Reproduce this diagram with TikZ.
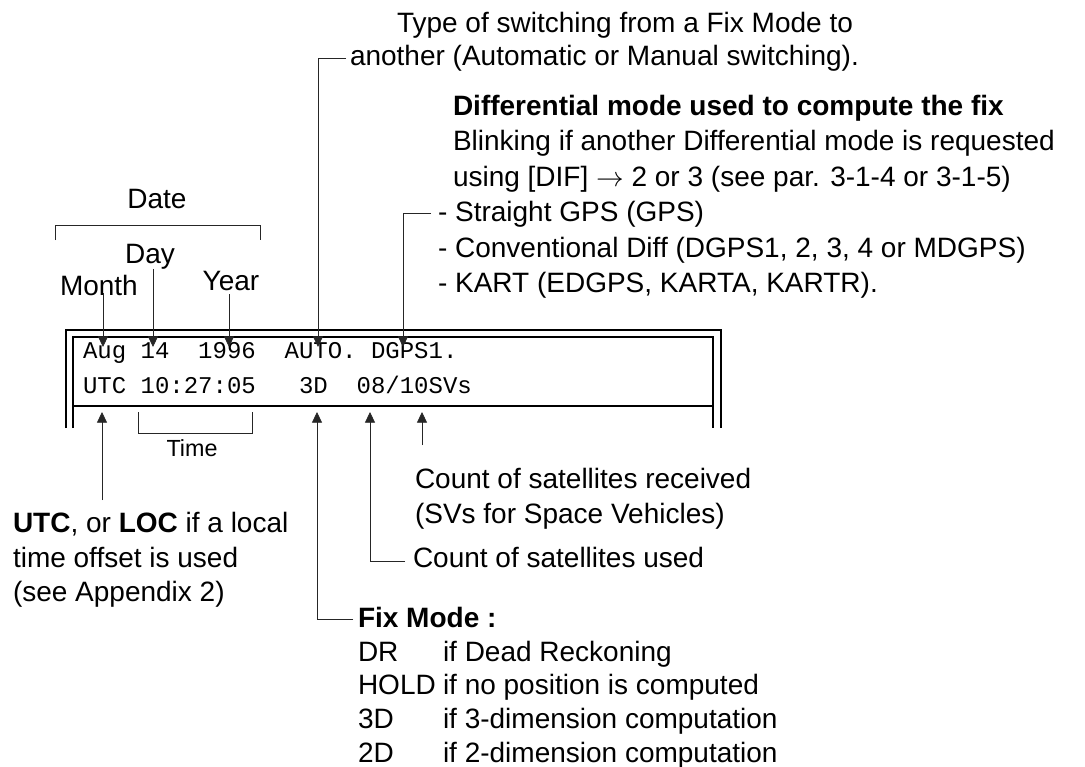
\documentclass[tikz,border=0pt]{standalone}
\usepackage{fontspec}
\setmainfont{Liberation Sans}
\setmonofont{Liberation Mono}
\usetikzlibrary{arrows.meta,calc}

\begin{document}
\begin{tikzpicture}[x=0.75pt,y=-0.75pt,
  lbl/.style={inner sep=0pt,outer sep=0pt,anchor=base west,font=\fontsize{21}{25}\selectfont},
  lblc/.style={lbl,anchor=base},
  small/.style={inner sep=0pt,outer sep=0pt,anchor=base,font=\fontsize{17.5}{21}\selectfont},
  lcd/.style={inner sep=0pt,outer sep=0pt,anchor=base west,font=\ttfamily\fontsize{18}{21}\selectfont},
  lead/.style={line width=0.6pt,black!85},
  arr/.style={lead,-{Triangle[length=8pt,width=7.5pt]}},
  frame/.style={line width=1.5pt},
]
\useasboundingbox[fill=white] (0,0) rectangle (1085,767);

% ---- display frame ----
\draw[frame] (66,428) |- (721,330) -- (721,428);
\draw[frame] (73,428) |- (713,337) -- (713,428);
\draw[frame] (73,406) -- (713,406);

% ---- display contents ----
\node[lcd] (row1) at (83,358) {Aug 14\ \ 1996\ \ AUTO. DGPS1.};
\node[lcd] (row2) at (83,393) {UTC 10:27:05\ \ \ 3D\ \ 08/10SVs};

% arrow tips on the two display rows
\coordinate (tMonth) at (103,347);
\coordinate (tDay)   at (153,347);
\coordinate (tYear)  at (229,347);
\coordinate (tAuto)  at (318,347);
\coordinate (tDgps)  at (403,347);
\coordinate (tUtc)   at (102,412);
\coordinate (t3d)    at (317,412);
\coordinate (t08)    at (370,412);
\coordinate (tSv)    at (422,412);

% ---- date labels ----
\node[lblc] (date)  at (157,208) {Date};
\node[lblc] (day)   at (150,263) {Day};
\node[lbl]  (month) at (60,295)  {Month};
\node[lblc] (year)  at (231,290) {Year};
\draw[lead] (55,240) |- (260,225) -- (260,240);

\draw[arr] ($(month.base -| tMonth)+(0,-2)$) -- (tMonth);
\draw[arr] (day.south -| tDay) -- (tDay);
\draw[arr] ($(year.south -| tYear)+(0,4)$) -- (tYear);

% ---- switching type ----
\node[lbl] (t1) at (397,33) {Type of switching from a Fix Mode to};
\node[lbl] (t2) at (350,66) {another (Automatic or Manual switching).};
\draw[arr] ($(t2.base west)+(-4,-8)$) -| (tAuto);

% ---- differential mode ----
\node[lbl] (d1) at (453,115) {\textbf{Differential mode used to compute the fix}};
\node[lbl] (d2) at (453,150) {Blinking if another Differential mode is requested};
\node[lbl] (d3) at (453,186) {using [DIF] $\rightarrow$ 2 or 3 (see par. 3-1-4 or 3-1-5)};
\node[lbl] (d4) at (438,221) {- Straight GPS (GPS)};
\node[lbl] (d5) at (438,257) {- Conventional Diff (DGPS1, 2, 3, 4 or MDGPS)};
\node[lbl] (d6) at (438,292) {- KART (EDGPS, KARTA, KARTR).};
\draw[arr] ($(d4.base west)+(-7,-8)$) -| (tDgps);

% ---- time ----
\draw[lead] (138,412) |- (252,433) -- (252,412);
\node[small] (time) at (192,456) {Time};

% ---- UTC / LOC ----
\node[lbl] (u1) at (13,532) {\textbf{UTC}, or \textbf{LOC} if a local};
\node[lbl] (u2) at (13,567) {time offset is used};
\node[lbl] (u3) at (13,601) {(see Appendix 2)};
\draw[arr] ($(u1.base -| tUtc)+(0,-32)$) -- (tUtc);

% ---- satellites ----
\node[lbl] (c1) at (415,488) {Count of satellites received};
\node[lbl] (c2) at (415,523) {(SVs for Space Vehicles)};
\node[lbl] (c3) at (413,567) {Count of satellites used};
\draw[arr] ($(c1.base -| tSv)+(0,-43)$) -- (tSv);
\draw[arr] ($(c3.base west)+(-8,-6)$) -| (t08);

% ---- fix mode ----
\node[lbl] (f0) at (358,627) {\textbf{Fix Mode :}};
\node[lbl] (f1) at (358,661) {DR};
\node[lbl] (f1t) at (443,661) {if Dead Reckoning};
\node[lbl] (f2) at (358,694.5) {HOLD};
\node[lbl] (f2t) at (443,694.5) {if no position is computed};
\node[lbl] (f3) at (358,728) {3D};
\node[lbl] (f3t) at (443,728) {if 3-dimension computation};
\node[lbl] (f4) at (358,762) {2D};
\node[lbl] (f4t) at (443,762) {if 2-dimension computation};
\draw[arr] ($(f0.base west)+(-5,-8)$) -| (t3d);
\end{tikzpicture}
\end{document}
